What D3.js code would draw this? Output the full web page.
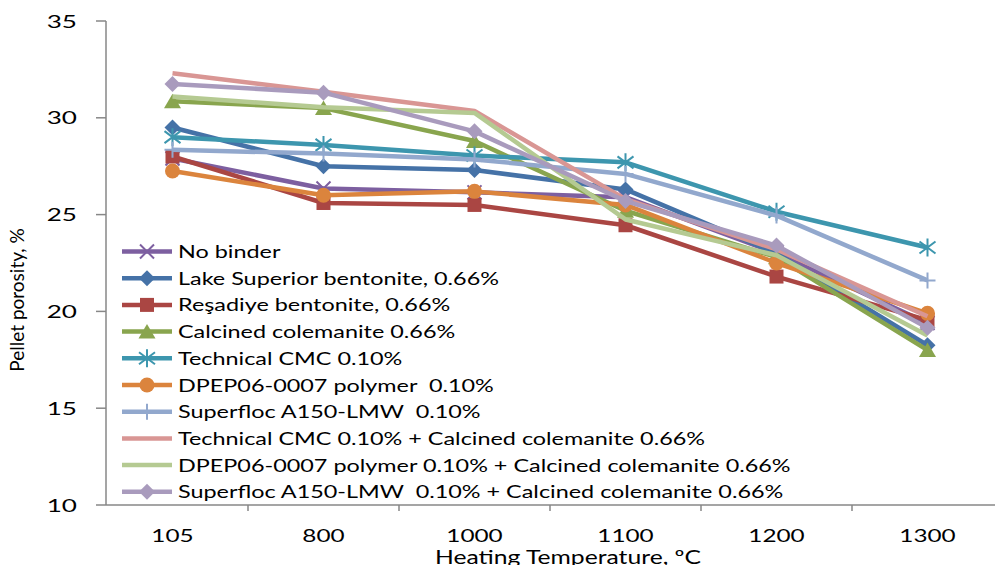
<!DOCTYPE html>
<html><head><meta charset="utf-8">
<script src="https://cdn.jsdelivr.net/npm/d3@7"></script>
<style>body{margin:0;background:#fff;overflow:hidden} text{white-space:pre}</style>
</head><body>
<svg id="c" width="995" height="565"></svg>
<script>
const categories = ["105", "800", "1000", "1100", "1200", "1300"];
const yTicks = [10, 15, 20, 25, 30, 35];

const noBinder        = [27.9, 26.35, 26.15, 25.9, 23.0, 19.4];
const lakeSuperior    = [29.5, 27.5, 27.3, 26.3, 23.0, 18.25];
const resadiye        = [28.0, 25.6, 25.5, 24.45, 21.8, 19.55];
const calcinedCol     = [30.85, 30.5, 28.8, 25.2, 22.8, 18.0];
const technicalCMC    = [29.0, 28.6, 28.05, 27.7, 25.15, 23.3];
const dpepPolymer     = [27.25, 26.0, 26.2, 25.5, 22.5, 19.9];
const superfloc       = [28.35, 28.15, 27.85, 27.1, 24.95, 21.6];
const cmcPlusCol      = [32.3, 31.35, 30.35, 25.8, 23.2, 19.75];
const dpepPlusCol     = [31.1, 30.55, 30.25, 24.75, 22.9, 18.75];
const superflocPlusCol= [31.75, 31.3, 29.3, 25.7, 23.4, 19.15];

const seriesNames = [
  "No binder",
  "Lake Superior bentonite, 0.66%",
  "Reşadiye bentonite, 0.66%",
  "Calcined colemanite 0.66%",
  "Technical CMC 0.10%",
  "DPEP06-0007 polymer  0.10%",
  "Superfloc A150-LMW  0.10%",
  "Technical CMC 0.10% + Calcined colemanite 0.66%",
  "DPEP06-0007 polymer 0.10% + Calcined colemanite 0.66%",
  "Superfloc A150-LMW  0.10% + Calcined colemanite 0.66%"
];
const seriesValues = [noBinder, lakeSuperior, resadiye, calcinedCol, technicalCMC,
  dpepPolymer, superfloc, cmcPlusCol, dpepPlusCol, superflocPlusCol];
const seriesColors = ["#7D5FA0", "#4572A7", "#AA4643", "#89A54E", "#3D96AE",
  "#DB843D", "#92A8CD", "#D99694", "#B5CA92", "#A99BBD"];
const seriesMarkers = ["x", "diamond", "square", "triangle", "star", "circle", "plus", "none", "none", "diamond"];

const svg = d3.select("#c");
const FONT = "Lato, 'Open Sans', sans-serif";
const axisColor = "#878787";

const x = d3.scalePoint().domain(categories).range([172.5, 927.5]);
const y = d3.scaleLinear().domain([10, 35]).range([505, 21]);
const step = x.step();

function stext(g, tx, ty, str, size, anchor, sx, color) {
  return g.append("text")
    .attr("transform", `translate(${tx},${ty}) scale(${sx},1)`)
    .attr("text-anchor", anchor)
    .attr("font-family", FONT)
    .attr("font-size", size)
    .attr("fill", color || "#000")
    .attr("xml:space", "preserve")
    .text(str);
}

// axes
const yAxisX = 106;
svg.append("line").attr("x1", yAxisX).attr("x2", yAxisX).attr("y1", y(35)).attr("y2", y(10))
  .attr("stroke", axisColor).attr("stroke-width", 1.5);
yTicks.forEach(t => {
  svg.append("line").attr("x1", yAxisX - 10).attr("x2", yAxisX).attr("y1", y(t)).attr("y2", y(t))
    .attr("stroke", axisColor).attr("stroke-width", 1.5);
  stext(svg, 77, y(t) + 6.5, String(t), 18, "end", 1.45);
});
svg.append("line").attr("x1", yAxisX).attr("x2", 995).attr("y1", y(10)).attr("y2", y(10))
  .attr("stroke", axisColor).attr("stroke-width", 1.5);
categories.forEach((c, i) => {
  if (i > 0) {
    const bx = x(c) - step / 2;
    svg.append("line").attr("x1", bx).attr("x2", bx).attr("y1", y(10)).attr("y2", y(10) + 6)
      .attr("stroke", axisColor).attr("stroke-width", 1.5);
  }
  stext(svg, x(c), 542, c, 18, "middle", 1.35);
});
stext(svg, 568, 564, "Heating Temperature, ºC", 19, "middle", 1.3);
svg.append("text")
  .attr("transform", `translate(24,300) rotate(-90)`)
  .attr("text-anchor", "middle")
  .attr("font-family", FONT).attr("font-size", 19)
  .text("Pellet porosity, %");

function drawMarker(g, type, cx, cy, color) {
  const s = 8;
  if (type === "diamond") {
    g.append("path").attr("d", `M${cx},${cy - s}L${cx + s},${cy}L${cx},${cy + s}L${cx - s},${cy}Z`).attr("fill", color);
  } else if (type === "square") {
    g.append("rect").attr("x", cx - 7).attr("y", cy - 7).attr("width", 14).attr("height", 14).attr("fill", color);
  } else if (type === "triangle") {
    g.append("path").attr("d", `M${cx},${cy - 7.5}L${cx + 8.5},${cy + 7}L${cx - 8.5},${cy + 7}Z`).attr("fill", color);
  } else if (type === "circle") {
    g.append("circle").attr("cx", cx).attr("cy", cy).attr("r", 7.5).attr("fill", color);
  } else if (type === "x") {
    g.append("path").attr("d", `M${cx - 7},${cy - 7}L${cx + 7},${cy + 7}M${cx - 7},${cy + 7}L${cx + 7},${cy - 7}`)
      .attr("stroke", color).attr("stroke-width", 2);
  } else if (type === "plus") {
    g.append("path").attr("d", `M${cx - 8},${cy}L${cx + 8},${cy}M${cx},${cy - 8}L${cx},${cy + 8}`)
      .attr("stroke", color).attr("stroke-width", 2);
  } else if (type === "star") {
    g.append("path").attr("d", `M${cx - 8},${cy - 6}L${cx + 8},${cy + 6}M${cx - 8},${cy + 6}L${cx + 8},${cy - 6}M${cx},${cy - 9}L${cx},${cy + 9}`)
      .attr("stroke", color).attr("stroke-width", 2);
  }
}

const line = d3.line().x((d, i) => x(categories[i])).y(d => y(d));
seriesValues.forEach((vals, si) => {
  const g = svg.append("g");
  g.append("path").attr("d", line(vals)).attr("fill", "none")
    .attr("stroke", seriesColors[si]).attr("stroke-width", 4.5).attr("stroke-linejoin", "round");
  vals.forEach((v, i) => drawMarker(g, seriesMarkers[si], x(categories[i]), y(v), seriesColors[si]));
});

// legend
const lg = svg.append("g");
seriesNames.forEach((n, i) => {
  const ly = 251.5 + i * 26.7;
  lg.append("line").attr("x1", 122).attr("x2", 172).attr("y1", ly).attr("y2", ly)
    .attr("stroke", seriesColors[i]).attr("stroke-width", 4.5);
  drawMarker(lg, seriesMarkers[i], 147, ly, seriesColors[i]);
  stext(lg, 178, ly + 6.5, n, 18, "start", 1.3);
});
</script>
</body></html>
